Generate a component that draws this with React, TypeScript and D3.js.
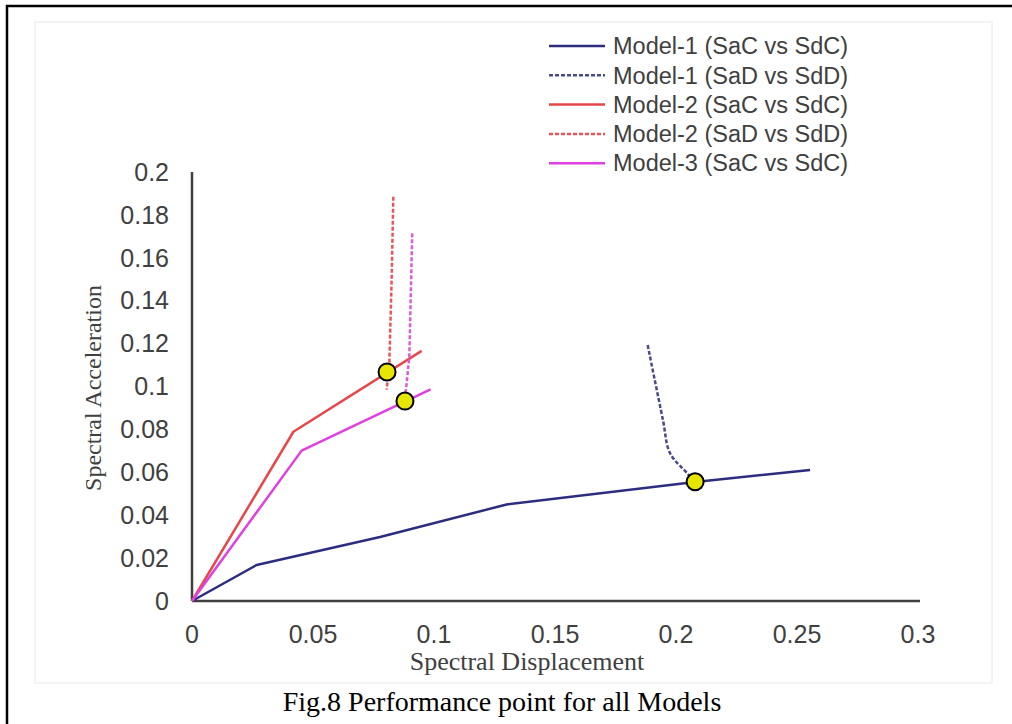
import React from "react";
import * as d3 from "d3";

// values (Sd in m, Sa in g)
const m1SdC = [0, 0.0267, 0.0777, 0.13, 0.2079, 0.2554];
const m1SaC = [0, 0.0168, 0.0298, 0.045, 0.0555, 0.0611];
const m1SdD = [0.1883, 0.1946, 0.1975, 0.2045, 0.2079];
const m1SaD = [0.1193, 0.0844, 0.069, 0.0597, 0.0555];

const m2SdC = [0, 0.0419, 0.0949];
const m2SaC = [0, 0.0789, 0.1166];
const m2SdD = [0.0832, 0.0825, 0.0815, 0.0804];
const m2SaD = [0.1885, 0.15, 0.1092, 0.0985];

const m3SdC = [0, 0.0453, 0.0986];
const m3SaC = [0, 0.0701, 0.0987];
const m3SdD = [0.091, 0.0898, 0.088];
const m3SaD = [0.1714, 0.1139, 0.0937];

const ppSd = [0.0806, 0.088, 0.2079];
const ppSa = [0.1068, 0.0932, 0.0556];

const xTicks = [0, 0.05, 0.1, 0.15, 0.2, 0.25, 0.3];
const yTicks = [0, 0.02, 0.04, 0.06, 0.08, 0.1, 0.12, 0.14, 0.16, 0.18, 0.2];

const legendNames = [
  "Model-1 (SaC vs SdC)",
  "Model-1 (SaD vs SdD)",
  "Model-2 (SaC vs SdC)",
  "Model-2 (SaD vs SdD)",
  "Model-3 (SaC vs SdC)",
];

const NAVY = "#2d2d80";
const RED = "#e8474a";
const PINK = "#e040e0";

const x = d3.scaleLinear().domain([0, 0.3]).range([192, 918]);
const y = d3.scaleLinear().domain([0, 0.2]).range([601, 172]);

const zip = (a: number[], b: number[]) => a.map((v, i) => [v, b[i]] as [number, number]);
const line = d3.line<[number, number]>().x(d => x(d[0])).y(d => y(d[1]));
const curve = d3.line<[number, number]>().x(d => x(d[0])).y(d => y(d[1])).curve(d3.curveCatmullRom);
const fmt = d3.format("~g");

const series = [
  { d: line(zip(m1SdC, m1SaC)), color: NAVY, dash: "", w: 2.5 },
  { d: curve(zip(m1SdD, m1SaD)), color: "#4a4a88", dash: "4,2", w: 2.5 },
  { d: line(zip(m2SdC, m2SaC)), color: RED, dash: "", w: 2.5 },
  { d: line(zip(m2SdD, m2SaD)), color: "#e8545a", dash: "4,2", w: 2.5 },
  { d: line(zip(m3SdC, m3SaC)), color: PINK, dash: "", w: 2.5 },
  { d: line(zip(m3SdD, m3SaD)), color: "#d85cd8", dash: "4,2", w: 2.5 },
];

const legendStyles = [series[0], series[1], series[2], series[3], series[4]];

export default function App() {
  return (
    <svg width={1012} height={724} style={{ position: "absolute", left: 0, top: 0, background: "#fff" }}>
      {/* outer frame */}
      <path d="M7,724 V6 H1012" fill="none" stroke="#000" strokeWidth={2.5} />
      <rect x={35} y={22} width={957} height={661} fill="none" stroke="#f0f0f0" strokeWidth={1.5} />

      {/* axes */}
      <line x1={x(0)} x2={x(0.3) + 2} y1={y(0)} y2={y(0)} stroke="#404040" strokeWidth={2.5} />
      <line x1={x(0)} x2={x(0)} y1={y(0)} y2={y(0.2)} stroke="#404040" strokeWidth={2.5} />

      {xTicks.map(t => (
        <text key={"x" + t} x={x(t)} y={643} textAnchor="middle" fontFamily="Liberation Sans, Arial, sans-serif" fontSize={25} fill="#404040">
          {fmt(t)}
        </text>
      ))}
      {yTicks.map(t => (
        <text key={"y" + t} x={169} y={y(t)} dy="0.35em" textAnchor="end" fontFamily="Liberation Sans, Arial, sans-serif" fontSize={25} fill="#404040">
          {fmt(t)}
        </text>
      ))}

      <text x={527} y={670} textAnchor="middle" fontFamily="Liberation Serif, Times New Roman, serif" fontSize={26} fill="#404040">
        Spectral Displacement
      </text>
      <text transform="translate(101,388) rotate(-90)" textAnchor="middle" fontFamily="Liberation Serif, Times New Roman, serif" fontSize={24} fill="#404040">
        Spectral Acceleration
      </text>

      {series.map((s, i) => (
        <path key={i} d={s.d ?? ""} fill="none" stroke={s.color} strokeWidth={s.w} strokeDasharray={s.dash || undefined} strokeLinejoin="round" />
      ))}

      {ppSd.map((v, i) => (
        <circle key={i} cx={x(v)} cy={y(ppSa[i])} r={8.5} fill="#e6e600" stroke="#000" strokeWidth={2} />
      ))}

      {legendNames.map((n, i) => {
        const cy = 46 + i * 29.3;
        const s = legendStyles[i];
        return (
          <g key={n}>
            <line x1={549} x2={605} y1={cy} y2={cy} stroke={s.color} strokeWidth={s.w} strokeDasharray={s.dash || undefined} />
            <text x={613} y={cy} dy="0.35em" fontFamily="Liberation Sans, Arial, sans-serif" fontSize={23.5} fill="#404040">
              {n}
            </text>
          </g>
        );
      })}

      <text x={502} y={711} textAnchor="middle" fontFamily="Liberation Serif, Times New Roman, serif" fontSize={28} fill="#000">
        Fig.8 Performance point for all Models
      </text>
    </svg>
  );
}
